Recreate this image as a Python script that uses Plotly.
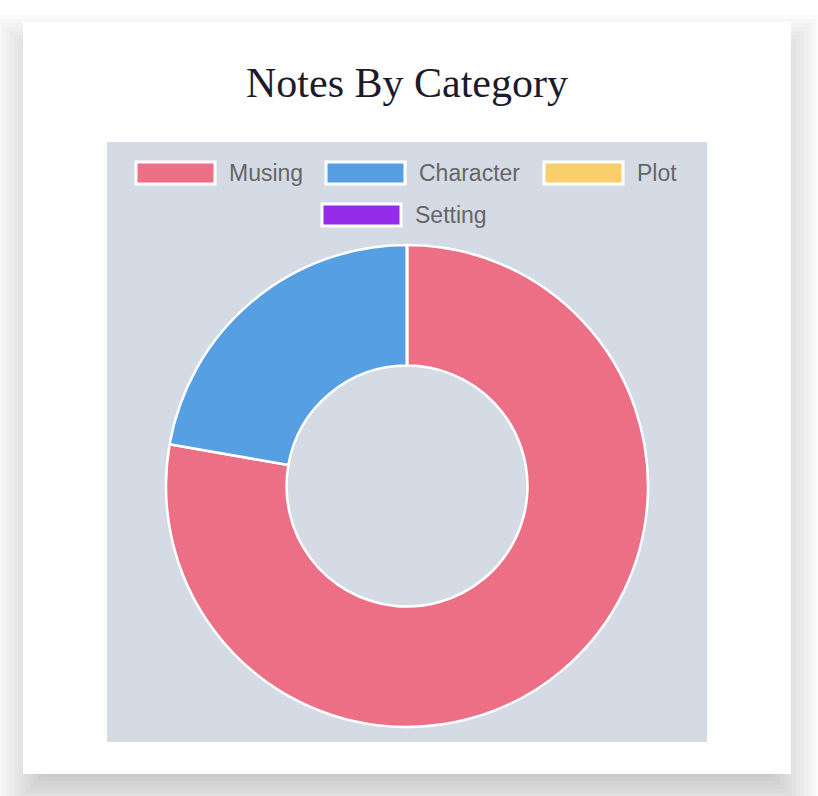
import plotly.graph_objects as go

W, H = 818, 796

categories = ["Musing", "Character", "Plot", "Setting"]
counts = [7, 2, 0, 0]
colors = ["#ec6f86", "#559fe2", "#f8cf6b", "#932be8"]
title_text = "Notes By Category"


def px(x):
    return x / W


def py(y):
    return 1 - y / H


shapes = []
# soft card shadow (layered approximation of a blurred, offset box-shadow)
B, step, off, spread = 36, 4, 22, -5
n_layers = int(2 * B / step)
layer_alpha = 4 / 255
for k in range(n_layers):
    s = -B + step * (k + 0.5) + spread
    shapes.append(dict(
        type="rect", xref="paper", yref="paper", layer="below",
        x0=px(23 - s), x1=px(791 + s), y0=py(774 + off + s), y1=py(22 + off - s),
        fillcolor="rgba(0,0,0,%.4f)" % layer_alpha, line=dict(width=0),
    ))
# card
shapes.append(dict(type="rect", xref="paper", yref="paper", layer="below",
                   x0=px(23), x1=px(791), y0=py(774), y1=py(22),
                   fillcolor="white", line=dict(width=0)))
# chart area
shapes.append(dict(type="rect", xref="paper", yref="paper", layer="below",
                   x0=px(107), x1=px(707), y0=py(742), y1=py(142),
                   fillcolor="#d5dbe5", line=dict(width=0)))

# legend (Chart.js style boxes)
legend_slots = [(136, 173), (326, 173), (544, 173), (322, 215)]
annotations = []
for name, col, (bx, cy) in zip(categories, colors, legend_slots):
    shapes.append(dict(type="rect", xref="paper", yref="paper", layer="below",
                       x0=px(bx), x1=px(bx + 79), y0=py(cy + 11), y1=py(cy - 11),
                       fillcolor=col, line=dict(color="white", width=3)))
    annotations.append(dict(text=name, xref="paper", yref="paper",
                            x=px(bx + 91), y=py(cy), xanchor="left", yanchor="middle",
                            showarrow=False,
                            font=dict(family="Liberation Sans, Arial, sans-serif", size=23, color="#666666")))

annotations.append(dict(text=title_text, xref="paper", yref="paper",
                        x=px(407), y=py(83), xanchor="center", yanchor="middle",
                        showarrow=False,
                        font=dict(family="Liberation Serif, Georgia, serif", size=42, color="#1b1b2c")))

fig = go.Figure(go.Pie(
    labels=categories, values=counts, sort=False, direction="clockwise", rotation=0,
    hole=0.5, textinfo="none", showlegend=False,
    marker=dict(colors=colors, line=dict(color="white", width=2.5)),
    domain=dict(x=[px(166), px(648)], y=[py(727), py(245)]),
))

fig.update_layout(
    width=W, height=H, margin=dict(l=0, r=0, t=0, b=0),
    paper_bgcolor="white", plot_bgcolor="white",
    shapes=shapes, annotations=annotations, showlegend=False,
)

fig.write_html("out.html")
